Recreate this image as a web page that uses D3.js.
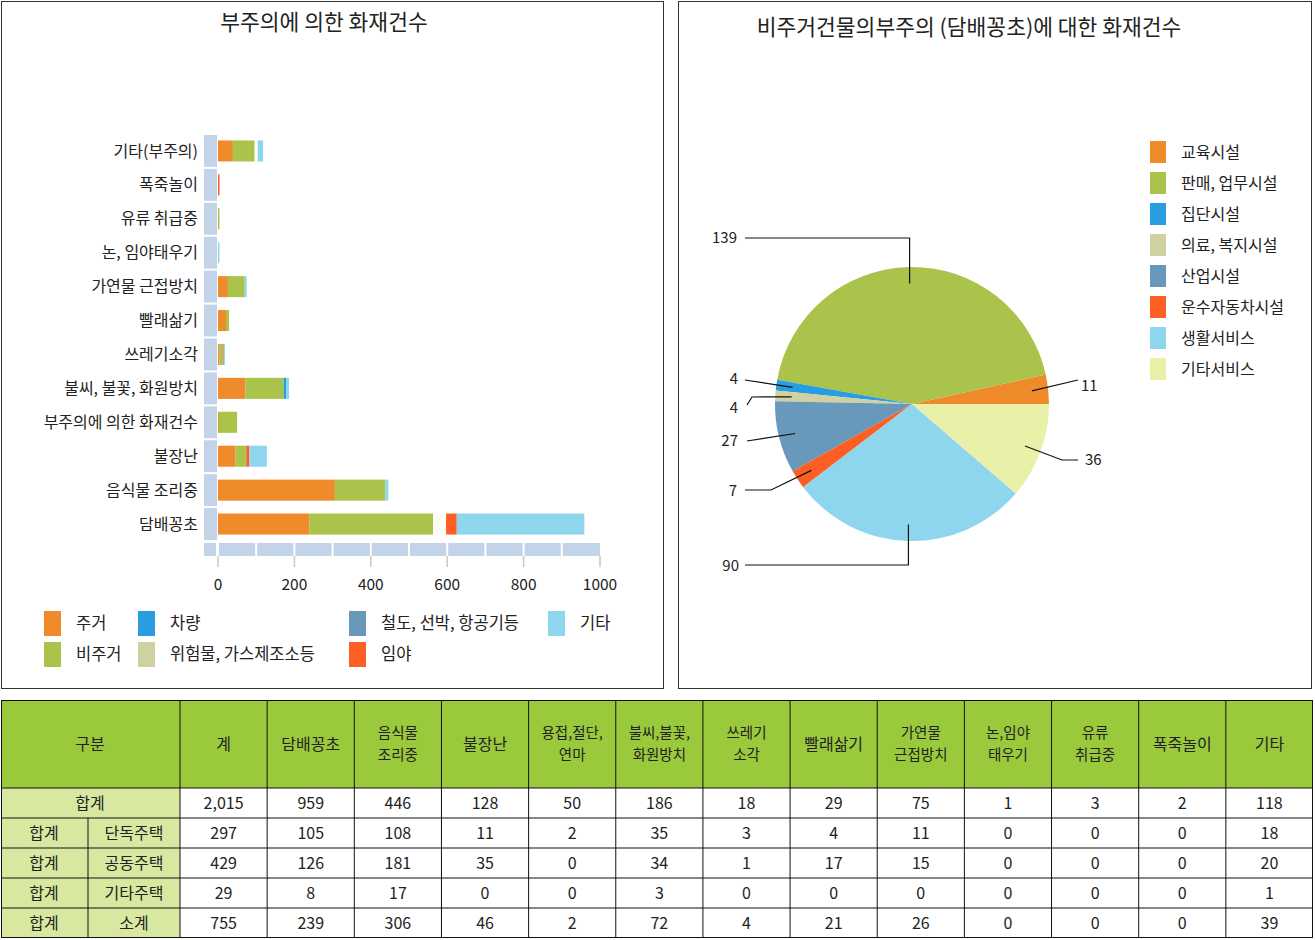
<!DOCTYPE html>
<html><head><meta charset="utf-8">
<script src="https://cdn.jsdelivr.net/npm/d3@7"></script>
<style>
body{margin:0;background:#fff;}
text{font-family:"Noto Sans CJK KR","Noto Sans",sans-serif;fill:#222;}
</style></head>
<body>
<svg id="c" width="1315" height="940"></svg>
<script>
// ---------- DATA ----------
const barCategories = ["기타(부주의)","폭죽놀이","유류 취급중","논, 임야태우기","가연물 근접방치","빨래삶기","쓰레기소각","불씨, 불꽃, 화원방치","부주의에 의한 화재건수","불장난","음식물 조리중","담배꽁초"];
const barSeries = ["주거","비주거","차량","위험물, 가스제조소등","철도, 선박, 항공기등","임야","기타"];
const sJugeo   = [39,0,0,0,26,21,4,72,2,46,306,239];
const sBijugeo = [57,0,3,0,44,8,8,100,48,28,132,324];
const sChar    = [0,0,0,0,0,0,0,6,0,0,0,0];
const sWiheom  = [8,0,0,0,0,0,0,0,0,0,0,34];
const sCheoldo = [0,0,0,0,0,0,0,0,0,0,0,0];
const sImya    = [0,2,0,0,0,0,2,0,0,8,0,28];
const sGita    = [14,0,0,1,5,0,4,8,0,46,8,334];
const barTicks = [0,200,400,600,800,1000];

const pieCategories = ["교육시설","판매, 업무시설","집단시설","의료, 복지시설","산업시설","운수자동차시설","생활서비스","기타서비스"];
const pieValues = [11,139,4,4,27,7,90,36];

const tableCols = ["계","담배꽁초","음식물\n조리중","불장난","용접,절단,\n연마","불씨,불꽃,\n화원방치","쓰레기\n소각","빨래삶기","가연물\n근접방치","논,임야\n태우기","유류\n취급중","폭죽놀이","기타"];
const tableRowLabels = [["합계"],["합계","단독주택"],["합계","공동주택"],["합계","기타주택"],["합계","소계"]];
const rowTotal   = ["2,015","959","446","128","50","186","18","29","75","1","3","2","118"];
const rowDandok  = ["297","105","108","11","2","35","3","4","11","0","0","0","18"];
const rowGongdong= ["429","126","181","35","0","34","1","17","15","0","0","0","20"];
const rowGitaJu  = ["29","8","17","0","0","3","0","0","0","0","0","0","1"];
const rowSogye   = ["755","239","306","46","2","72","4","21","26","0","0","0","39"];

// ---------- STYLE ----------
const barColors = ["#f08b2b","#a9c34b","#2a9de0","#fdfdf4","#6899bb","#fc5e24","#8dd6ee"];
const barLegendColors = ["#f08b2b","#a9c34b","#2a9de0","#d0d1a0","#6899bb","#fc5e24","#8dd6ee"];
const pieColors = ["#f08b2b","#a9c34b","#2a9de0","#d0d1a0","#6899bb","#fc5e24","#8dd6ee","#e9f0a8"];

const svg = d3.select("#c");

// panels
svg.append("rect").attr("x",1.5).attr("y",1.5).attr("width",662).attr("height",687).attr("fill","none").attr("stroke","#333");
svg.append("rect").attr("x",678.5).attr("y",1.5).attr("width",633).attr("height",687).attr("fill","none").attr("stroke","#333");

svg.append("text").attr("x",324).attr("y",22).attr("text-anchor","middle").attr("dy","0.35em").attr("font-size",21.5).text("부주의에 의한 화재건수");
svg.append("text").attr("x",969).attr("y",27).attr("text-anchor","middle").attr("dy","0.35em").attr("font-size",21.5).text("비주거건물의부주의 (담배꽁초)에 대한 화재건수");

// ---------- BAR CHART ----------
const x = d3.scaleLinear().domain([0,1000]).range([218,600]);
const y = d3.scaleBand().domain(barCategories).range([134,541]).paddingInner(0.38).paddingOuter(0.19);
const yWall = d3.scaleBand().domain(barCategories).range([134,541]).paddingInner(0.06).paddingOuter(0.03);
const wallColor = "#c3d4e8";

// left wall
svg.append("g").selectAll("rect").data(barCategories).join("rect")
  .attr("x",204).attr("width",x(0)-1-204)
  .attr("y",d=>yWall(d)).attr("height",yWall.bandwidth())
  .attr("fill",wallColor);
// floor
const floorY = 543, floorH = 13;
svg.append("rect").attr("x",204).attr("y",floorY).attr("width",x(1000)-204).attr("height",floorH).attr("fill",wallColor);
svg.append("g").selectAll("line").data(d3.range(0,1000,100)).join("line")
  .attr("x1",d=>x(d)).attr("x2",d=>x(d)).attr("y1",floorY).attr("y2",floorY+floorH)
  .attr("stroke","#fff").attr("stroke-width",2);
svg.append("line").attr("x1",x(0)-1).attr("x2",x(0)-1).attr("y1",floorY).attr("y2",floorY+floorH).attr("stroke","#fff").attr("stroke-width",2);
// ticks
const tg = svg.append("g");
tg.selectAll("line").data(barTicks).join("line")
  .attr("x1",d=>x(d)).attr("x2",d=>x(d)).attr("y1",floorY+floorH).attr("y2",floorY+floorH+11)
  .attr("stroke","#c8c8c8").attr("stroke-width",1.5);
tg.selectAll("text").data(barTicks).join("text")
  .attr("x",d=>x(d)).attr("y",585).attr("dy","0.35em").attr("text-anchor","middle").attr("font-size",15.5).text(d=>d);

// stacked bars
const seriesArrays = [sJugeo,sBijugeo,sChar,sWiheom,sCheoldo,sImya,sGita];
const rows = barCategories.map((c,i)=>{const o={cat:c}; barSeries.forEach((s,j)=>o[s]=seriesArrays[j][i]); return o;});
const stacked = d3.stack().keys(barSeries)(rows);
svg.append("g").selectAll("g").data(stacked).join("g")
  .attr("fill",(d,i)=>barColors[i])
  .selectAll("rect").data(d=>d).join("rect")
  .attr("x",d=>x(d[0])).attr("width",d=>{const w=x(d[1])-x(d[0]); return w>0?Math.max(1.5,w):0;})
  .attr("y",d=>y(d.data.cat)).attr("height",y.bandwidth());

// y labels
svg.append("g").selectAll("text").data(barCategories).join("text")
  .attr("x",198).attr("y",d=>y(d)+y.bandwidth()/2).attr("dy","0.35em").attr("text-anchor","end").attr("font-size",16).text(d=>d);

// bar legend (2 rows, column-major)
const legColX = [44,138,349,548];
const legRowY = [611,642];
const lg = svg.append("g");
barSeries.forEach((s,i)=>{
  const col = Math.floor(i/2), row = i%2;
  lg.append("rect").attr("x",legColX[col]).attr("y",legRowY[row]).attr("width",17).attr("height",25).attr("fill",barLegendColors[i]);
  lg.append("text").attr("x",legColX[col]+32).attr("y",legRowY[row]+12.5).attr("dy","0.35em").attr("font-size",16.5).text(s);
});

// ---------- PIE ----------
const cx = 912, cy = 404, R = 137;
const pie = d3.pie().sort(null).startAngle(Math.PI/2).endAngle(Math.PI/2-2*Math.PI);
const arcs = pie(pieValues);
const arc = d3.arc().innerRadius(0).outerRadius(R);
const pg = svg.append("g").attr("transform",`translate(${cx},${cy})`);
pg.selectAll("path").data(arcs).join("path").attr("d",arc).attr("fill",(d,i)=>pieColors[i]);

const labelLayout = [
  {pts:[[166,-24]], tx:169, ty:-18, anchor:"start"},
  {v:-166, pts:[[-167,-166]], tx:-175, ty:-166, anchor:"end"},
  {pts:[[-167,-24]], tx:-174, ty:-25, anchor:"end"},
  {pts:[[-160,-7],[-165,1]], tx:-174, ty:4, anchor:"end"},
  {pts:[[-165,37]], tx:-174, ty:37, anchor:"end"},
  {pts:[[-141,86],[-167,86]], tx:-175, ty:87, anchor:"end"},
  {v:161, pts:[[-167,161]], tx:-173, ty:162, anchor:"end"},
  {pts:[[150,56],[166,56]], tx:173, ty:56, anchor:"start"}
];
arcs.forEach((a,i)=>{
  const m = (a.startAngle+a.endAngle)/2;
  const r0 = R*0.88;
  const p0 = [Math.sin(m)*r0, -Math.cos(m)*r0];
  const L = labelLayout[i];
  const pts = [p0];
  if (L.v!==undefined) pts.push([p0[0],L.v]);
  L.pts.forEach(p=>pts.push(L.v!==undefined?[p[0],L.v]:p));
  pg.append("path").attr("d",d3.line()(pts)).attr("fill","none").attr("stroke","#111").attr("stroke-width",1.2);
  pg.append("text").attr("x",L.tx).attr("y",L.ty).attr("dy","0.35em").attr("text-anchor",L.anchor).attr("font-size",15).text(pieValues[i]);
});

// pie legend
const plg = svg.append("g");
pieCategories.forEach((c,i)=>{
  const yy = 141 + i*31;
  plg.append("rect").attr("x",1150).attr("y",yy).attr("width",16).attr("height",22).attr("fill",pieColors[i]);
  plg.append("text").attr("x",1181).attr("y",yy+11).attr("dy","0.35em").attr("font-size",16).text(c);
});

// ---------- TABLE ----------
const tTop = 700, headH = 88, rowH = 30;
const tx = d3.scaleBand().domain(tableCols).range([180,1313]);
const tableRows = [rowTotal,rowDandok,rowGongdong,rowGitaJu,rowSogye];
const headFill = "#9bc93c", labelFill = "#d8e8a0";
const fs = 16, hfs = 14.5, lh = 21.5;
const tbl = svg.append("g");
// header
tbl.append("rect").attr("x",1).attr("y",tTop).attr("width",1312).attr("height",headH).attr("fill",headFill);
tbl.append("text").attr("x",90).attr("y",tTop+headH/2).attr("dy","0.35em").attr("text-anchor","middle").attr("font-size",fs).text("구분");
tableCols.forEach(c=>{
  const lines = c.split("\n");
  const cxx = tx(c)+tx.bandwidth()/2;
  lines.forEach((ln,k)=>{
    tbl.append("text").attr("x",cxx).attr("y",tTop+headH/2+(k-(lines.length-1)/2)*lh).attr("dy","0.35em").attr("text-anchor","middle").attr("font-size",lines.length>1?hfs:fs).text(ln);
  });
});
// body
tableRows.forEach((r,ri)=>{
  const yy = tTop+headH+ri*rowH;
  const lab = tableRowLabels[ri];
  tbl.append("rect").attr("x",1).attr("y",yy).attr("width",179).attr("height",rowH).attr("fill",labelFill);
  if (lab.length===1){
    tbl.append("text").attr("x",90).attr("y",yy+rowH/2).attr("dy","0.35em").attr("text-anchor","middle").attr("font-size",fs).text(lab[0]);
  } else {
    tbl.append("text").attr("x",44).attr("y",yy+rowH/2).attr("dy","0.35em").attr("text-anchor","middle").attr("font-size",fs).text(lab[0]);
    tbl.append("text").attr("x",134).attr("y",yy+rowH/2).attr("dy","0.35em").attr("text-anchor","middle").attr("font-size",fs).text(lab[1]);
    tbl.append("line").attr("x1",88).attr("x2",88).attr("y1",yy).attr("y2",yy+rowH).attr("stroke","#111");
  }
  r.forEach((v,ci)=>{
    tbl.append("text").attr("x",tx(tableCols[ci])+tx.bandwidth()/2).attr("y",yy+rowH/2).attr("dy","0.35em").attr("text-anchor","middle").attr("font-size",fs).text(v);
  });
  tbl.append("line").attr("x1",1).attr("x2",1313).attr("y1",yy).attr("y2",yy).attr("stroke","#111");
});
const tBottom = tTop+headH+tableRows.length*rowH;
tbl.append("rect").attr("x",1.5).attr("y",tTop+0.5).attr("width",1311).attr("height",tBottom-tTop-1).attr("fill","none").attr("stroke","#111");
tableCols.forEach(c=>{
  tbl.append("line").attr("x1",tx(c)).attr("x2",tx(c)).attr("y1",tTop).attr("y2",tBottom).attr("stroke","#111");
});
</script>
</body></html>
